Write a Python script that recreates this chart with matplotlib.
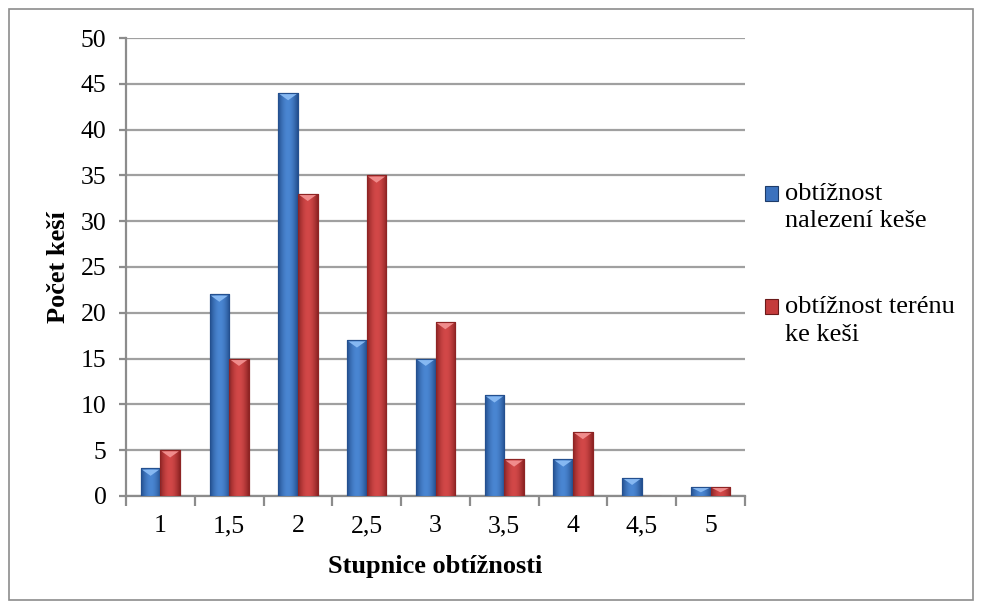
import numpy as np
import matplotlib
matplotlib.use("Agg")
import matplotlib.pyplot as plt
from matplotlib.patches import Rectangle
from matplotlib.legend_handler import HandlerPatch
from matplotlib.colors import LinearSegmentedColormap

plt.rcParams['font.family'] = ['Liberation Serif', 'DejaVu Serif']

categories = ['1', '1,5', '2', '2,5', '3', '3,5', '4', '4,5', '5']
nalezeni = [3, 22, 44, 17, 15, 11, 4, 2, 1]
teren = [5, 15, 33, 35, 19, 4, 7, 0, 1]
series_names = ['obtížnost\nnalezení keše', 'obtížnost terénu\nke keši']

x = np.arange(len(categories))
w = 0.285

fig = plt.figure(figsize=(9.82, 6.09), dpi=100)
ax = fig.add_axes([0.1283, 0.1856, 0.6304, 0.752])

b1 = ax.bar(x - w / 2, nalezeni, w, color='#3C72BE', edgecolor='#1E3C6A',
            linewidth=0.8, label=series_names[0], zorder=3)
b2 = ax.bar(x + w / 2, teren, w, color='#C43B3B', edgecolor='#6A1A1A',
            linewidth=0.8, label=series_names[1], zorder=3)

ax.set_xlim(-0.5, len(categories) - 0.5)
ax.set_ylim(0, 50)

# horizontal shading + light bevel on the top of every bar
grad = np.linspace(0, 1, 64)
grad = np.sin(grad * np.pi).reshape(1, -1)
shades = [
    (b1, ['#24508F', '#4A86D2'], '#86B8F2'),
    (b2, ['#8E2424', '#D24848'], '#F08C8C'),
]
for bars, cols, light in shades:
    cmap = LinearSegmentedColormap.from_list('s', cols)
    for r in bars:
        h = r.get_height()
        if h <= 0:
            continue
        x0 = r.get_x()
        bw = r.get_width()
        im = ax.imshow(grad, cmap=cmap, aspect='auto', extent=(x0, x0 + bw, 0, h),
                       zorder=3.5, interpolation='bilinear')
        im.set_clip_path(r)
        d = min(0.8, h * 0.6)
        ax.fill([x0 + bw * 0.06, x0 + bw * 0.94, x0 + bw / 2],
                [h - 0.12, h - 0.12, h - d], color=light, lw=0, zorder=4)
        ax.add_patch(Rectangle((x0, 0), bw, h, fill=False,
                               edgecolor=cols[0], lw=0.8, zorder=4.5))

ax.set_yticks(range(0, 51, 5))
ax.set_xticks(x)
ax.set_xticklabels(categories)
ax.set_xticks(np.arange(-0.5, len(categories), 1), minor=True)

ax.yaxis.grid(True, color='#A0A0A0', linewidth=1.6, zorder=0)
ax.set_axisbelow(True)
for s in ['top', 'right']:
    ax.spines[s].set_visible(False)
for s in ['left', 'bottom']:
    ax.spines[s].set_color('#8C8C8C')
    ax.spines[s].set_linewidth(1.6)

ax.tick_params(axis='y', length=5, width=1.6, color='#8C8C8C', labelsize=18.5, pad=9)
ax.tick_params(axis='x', which='major', length=0, labelsize=18.5, pad=14)
ax.tick_params(axis='x', which='minor', length=7, width=1.6, color='#8C8C8C')

ax.set_xlabel('Stupnice obtížnosti', fontsize=19, fontweight='bold', labelpad=13)
ax.set_ylabel('Počet keší', fontsize=19, fontweight='bold', labelpad=8)


def top_square(legend, orig_handle, xdescent, ydescent, width, height, fontsize):
    return Rectangle((-xdescent, -ydescent + fontsize * 0.5), width, height)


leg = fig.legend(handles=[b1[0], b2[0]], labels=series_names, loc='upper left',
                 bbox_to_anchor=(0.779, 0.70), frameon=False, fontsize=19,
                 borderpad=0, borderaxespad=0,
                 handlelength=0.5, handleheight=0.5, handletextpad=0.27,
                 labelspacing=2.45,
                 handler_map={b1[0]: HandlerPatch(patch_func=top_square),
                              b2[0]: HandlerPatch(patch_func=top_square)})
for t in leg.get_texts():
    t.set_linespacing(1.3)

fig.patches.append(Rectangle((0.009, 0.014), 0.982, 0.972, transform=fig.transFigure,
                             fill=False, edgecolor='#8C8C8C', linewidth=1.2))

fig.savefig('out.png', dpi=100)
